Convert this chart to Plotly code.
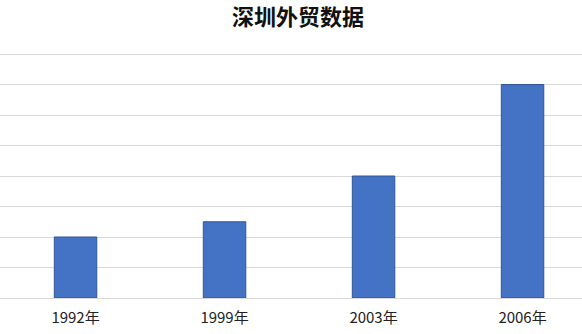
import plotly.graph_objects as go

categories = ["1992年", "1999年", "2003年", "2006年"]
values = [2, 2.5, 4, 7]

fig = go.Figure()
fig.add_trace(go.Bar(
    x=categories, y=values,
    width=0.285,
    marker=dict(color="#4472C4", line=dict(color="#2F5597", width=1)),
))
fig.update_layout(
    width=582, height=334,
    margin=dict(l=0, r=0, t=51, b=36),
    paper_bgcolor="white", plot_bgcolor="white",
    title=dict(text="<b>深圳外贸数据</b>", x=298 / 582, xanchor="center", y=1 - 17 / 334, yanchor="middle",
               font=dict(family="Noto Sans CJK SC", size=22, color="#111111")),
    showlegend=False,
    font=dict(family="Noto Sans CJK SC", size=15, color="#222222"),
)
fig.update_xaxes(range=[-0.507, 3.399], showline=False, ticks="", showgrid=False,
                 ticklabelstandoff=9, tickfont=dict(size=15, color="#222222"))
fig.update_yaxes(range=[0, 8.1], dtick=1, showticklabels=False, showgrid=True,
                 gridcolor="#D9D9D9", gridwidth=1, zeroline=True, zerolinecolor="#D9D9D9",
                 zerolinewidth=1)
fig.write_html("out.html")
